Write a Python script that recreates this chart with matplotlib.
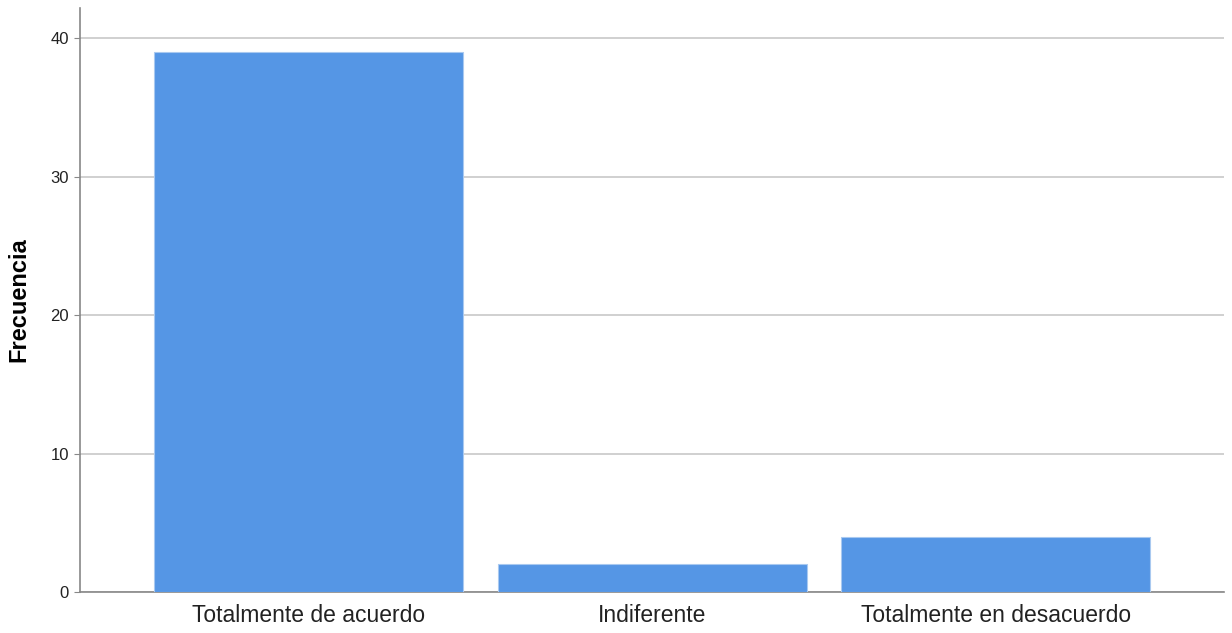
import matplotlib
matplotlib.use("Agg")
import matplotlib.pyplot as plt

categories = ["Totalmente de acuerdo", "Indiferente", "Totalmente en desacuerdo"]
frecuencia = [39, 2, 4]
y_ticks = [0, 10, 20, 30, 40]

plt.rcParams['font.family'] = ['Liberation Sans', 'DejaVu Sans']

fig = plt.figure(figsize=(12.32, 6.33), dpi=100)
ax = fig.add_axes([0.0649, 0.0648, 0.9286, 0.9226])

ax.bar(range(len(categories)), frecuencia, width=0.9,
       color='#5596e5', edgecolor='#a9c9f0', linewidth=0.8, zorder=3)

ax.set_xlim(-0.665, 2.664)
ax.set_ylim(0, 42.2)
ax.set_yticks(y_ticks)
ax.set_yticklabels([str(v) for v in y_ticks], fontsize=12, color='#222222')
ax.set_xticks(range(len(categories)))
ax.set_xticklabels(categories, fontsize=16.5, color='#222222')
ax.yaxis.grid(True, color='#c8c8c8', linewidth=1.2, zorder=0)
ax.set_axisbelow(True)

for side in ['top', 'right']:
    ax.spines[side].set_visible(False)
for side in ['left', 'bottom']:
    ax.spines[side].set_color('#888888')
    ax.spines[side].set_linewidth(1.2)

ax.tick_params(axis='x', length=0, pad=9)
ax.tick_params(axis='y', length=4, color='#888888', pad=4)
ax.set_ylabel('Frecuencia', fontsize=17, fontweight='bold', labelpad=14)

fig.savefig('out.png', dpi=100)
